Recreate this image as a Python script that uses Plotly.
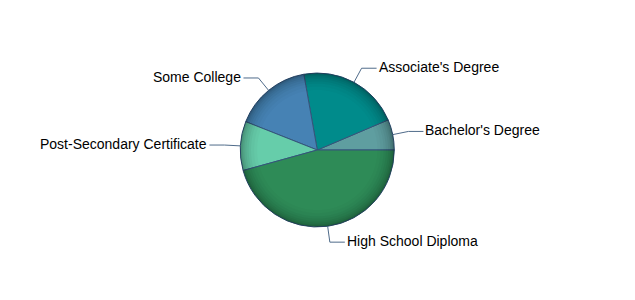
import math
import plotly.graph_objects as go

# Education attainment shares
categories = ["Bachelor's Degree", "Associate's Degree", "Some College",
              "Post-Secondary Certificate", "High School Diploma"]
values = [6.4, 21.4, 16.2, 10.3, 45.7]
colors = ["#5F9EA0", "#008B8B", "#4682B4", "#66CDAA", "#2E8B57"]

W, H = 635, 300
CX, CY, R = 317.3, 150.0, 77.0   # pie centre / radius in pixels

dom_x = [(CX - R) / W, (CX + R) / W]
dom_y = [(H - CY - R) / H, (H - CY + R) / H]

total = sum(values)
# first slice starts at 3 o'clock and runs counterclockwise
start_rot = 90 - 360.0 * values[0] / total

fig = go.Figure()

fig.add_trace(go.Pie(
    labels=categories, values=values, sort=False,
    direction="counterclockwise", rotation=start_rot,
    marker=dict(colors=colors, line=dict(color="#34557a", width=1)),
    textinfo="none", hoverinfo="label+percent", showlegend=False,
    domain=dict(x=dom_x, y=dom_y),
))

# soft darkening toward the rim
rings = [(0.78, 0.02), (0.82, 0.025), (0.86, 0.03), (0.89, 0.04),
         (0.92, 0.045), (0.945, 0.05), (0.965, 0.06), (0.982, 0.07)]
for hole, alpha in rings:
    fig.add_trace(go.Pie(
        values=[1], hole=hole, sort=False, textinfo="none", hoverinfo="skip",
        marker=dict(colors=[f"rgba(0,0,0,{alpha})"], line=dict(width=0)),
        showlegend=False, domain=dict(x=dom_x, y=dom_y),
    ))

# connectors and labels positioned from each slice's mid-angle
cum = 0.0
for name, v in zip(categories, values):
    mid = math.radians(360.0 * (cum + v / 2) / total)
    cum += v
    c, s = math.cos(mid), math.sin(mid)
    x1, y1 = CX + R * c, CY - R * s
    x2, y2 = CX + (R + 16) * c, CY - (R + 16) * s
    side = 1 if c >= 0 else -1
    x3 = x2 + side * 15
    fig.add_trace(go.Scatter(
        x=[x1, x2, x3], y=[y1, y2, y2], mode="lines",
        line=dict(color="#4f6b8a", width=1), hoverinfo="skip", showlegend=False,
    ))
    fig.add_annotation(
        x=x3, y=y2 - 1, text=name, showarrow=False,
        xanchor="left" if side > 0 else "right", yanchor="middle",
        font=dict(family="Liberation Sans, Arial, sans-serif", size=14, color="#000000"),
    )

fig.update_layout(
    width=W, height=H, margin=dict(l=0, r=0, t=0, b=0),
    paper_bgcolor="white", plot_bgcolor="rgba(0,0,0,0)",
    xaxis=dict(range=[0, W], visible=False, fixedrange=True),
    yaxis=dict(range=[H, 0], visible=False, fixedrange=True),
)

fig.write_html("out.html")
